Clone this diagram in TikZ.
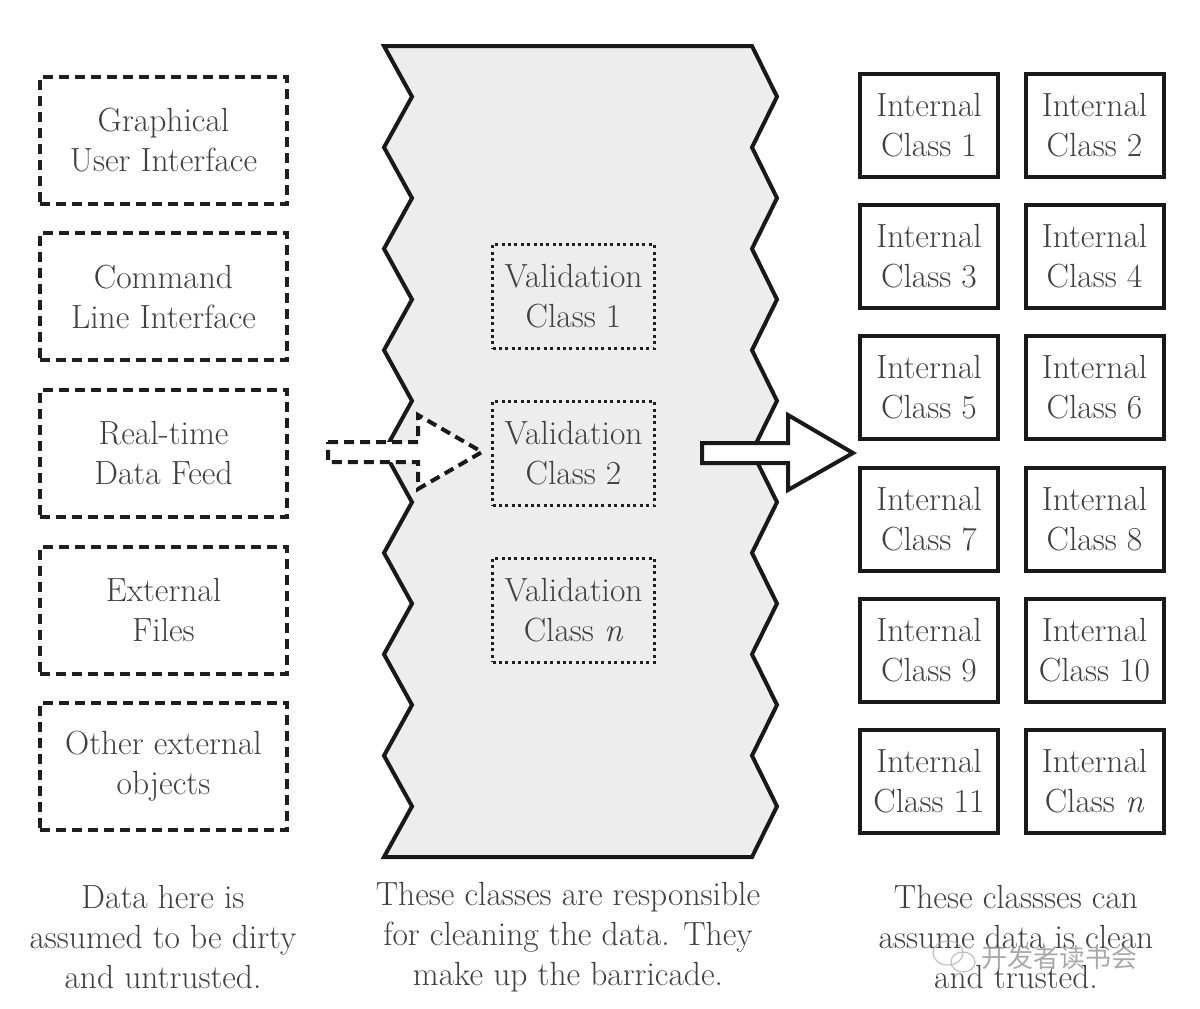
\documentclass[tikz,border=0pt]{standalone}
\usepackage{fontspec}
\newfontfamily\cjk{Noto Sans CJK SC}
\begin{document}
\begin{tikzpicture}[x=1pt,y=-1pt,
  txt/.style={font=\fontsize{33.5}{40}\selectfont, text=black!75, align=center},
  dirty/.style={draw=black!88, line width=4pt, dash pattern=on 10pt off 6pt,
    minimum width=247pt, minimum height=127pt, inner sep=0pt, txt},
  valid/.style={draw=black!88, line width=3pt, dash pattern=on 3pt off 3.4pt,
    minimum width=162pt, minimum height=104pt, inner sep=0pt, txt},
  internal/.style={draw=black!90, line width=4pt,
    minimum width=138pt, minimum height=103pt, inner sep=0pt, txt},
  caption/.style={txt},
  wall/.style={draw=black!90, fill=black!7, line width=4pt, line join=miter},
  blockarrow/.style={draw=black!90, fill=white, line width=4pt, line join=miter}
]
\useasboundingbox (0,0) rectangle (1200,1009);

% barricade
\draw[wall] (384,46) -- (752,46)
  \foreach \k in {0,...,7} { -- (777,{96.7+101.375*\k}) -- (752,{147.4+101.375*\k}) }
  -- (384,857)
  \foreach \k in {7,...,0} { -- (412,{96.7+101.375*\k}) -- (384,{46+101.375*\k}) }
  -- cycle;

% untrusted sources
\node[dirty] (gui) at (163.5,140) {Graphical\\User Interface};
\node[dirty] (cli) at (163.5,296.5) {Command\\Line Interface};
\node[dirty] (rtd) at (163.5,453.5) {Real-time\\Data Feed};
\node[dirty] (ext) at (163.5,610.5) {External\\Files};
\node[dirty] (oth) at (163.5,766.5) {Other external\\objects};

% validation classes
\node[valid] (v1) at (573.5,296.5) {Validation\\Class 1};
\node[valid] (v2) at (573.5,453.5) {Validation\\Class 2};
\node[valid] (vn) at (573.5,610) {Validation\\Class \textit{n}};

% internal classes
\node[internal] (i1)  at (929,125.5)  {Internal\\Class 1};
\node[internal] (i2)  at (1094.5,125.5) {Internal\\Class 2};
\node[internal] (i3)  at (929,256.5)  {Internal\\Class 3};
\node[internal] (i4)  at (1094.5,256.5) {Internal\\Class 4};
\node[internal] (i5)  at (929,387.5)  {Internal\\Class 5};
\node[internal] (i6)  at (1094.5,387.5) {Internal\\Class 6};
\node[internal] (i7)  at (929,519)    {Internal\\Class 7};
\node[internal] (i8)  at (1094.5,519) {Internal\\Class 8};
\node[internal] (i9)  at (929,650)    {Internal\\Class 9};
\node[internal] (i10) at (1094.5,650) {Internal\\Class 10};
\node[internal] (i11) at (929,781)    {Internal\\Class 11};
\node[internal] (in)  at (1094.5,781) {Internal\\Class \textit{n}};

% arrows
\draw[blockarrow, dash pattern=on 10pt off 6pt]
  (328,442) -- (418,442) -- (418,415) -- (482,452) -- (418,489) -- (418,462) -- (328,462) -- cycle;
\draw[blockarrow]
  (702,443) -- (788,443) -- (788,415) -- (853,453) -- (788,490) -- (788,463) -- (702,463) -- cycle;

% captions
\node[caption] (c1) at (163,937) {Data here is\\assumed to be dirty\\and untrusted.};
\node[caption] (c2) at (568,937) {These classes are responsible\\for cleaning the data. They\\make up the barricade.};
\node[caption] (c3) at (1016,937) {These classses can\\assume data is clean\\and trusted.};

% watermark
\begin{scope}[draw=black!35, line width=1.2pt, opacity=0.7]
  \draw (948,953) ellipse [x radius=15pt, y radius=12pt];
  \draw (963,962) ellipse [x radius=12pt, y radius=10pt];
\end{scope}
\node[font=\cjk\fontsize{26}{26}\selectfont, text=black!45, opacity=0.75, anchor=west] (wm) at (978,958) {开发者读书会};
\end{tikzpicture}
\end{document}
